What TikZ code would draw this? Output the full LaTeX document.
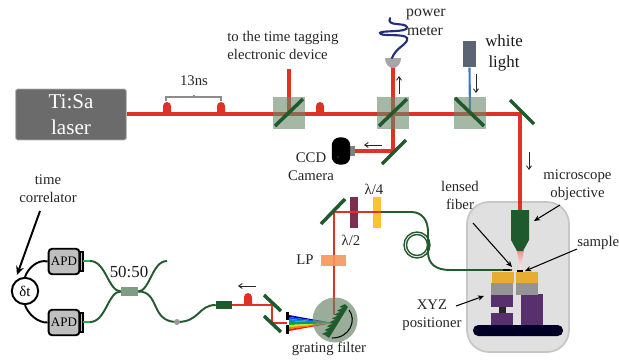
\documentclass[tikz,border=0pt]{standalone}
\usepackage{fontspec}
\setmainfont{Liberation Serif}
\usetikzlibrary{calc,arrows.meta}
\definecolor{beamred}{HTML}{DE3226}
\definecolor{mirrorgreen}{HTML}{1E5A2C}
\definecolor{bsgreen}{HTML}{698969}
\definecolor{discgreen}{HTML}{648164}
\definecolor{fibergreen}{HTML}{245A30}
\definecolor{stubgreen}{HTML}{22B14C}
\definecolor{stagepurple}{HTML}{58306E}
\definecolor{stagegold}{HTML}{E5AE30}
\definecolor{lampgrey}{HTML}{5B6472}
\definecolor{lampblue}{HTML}{3B78C4}
\definecolor{meternavy}{HTML}{1F2F7A}
\definecolor{waveplum}{HTML}{7A3050}
\definecolor{wavegold}{HTML}{FBC232}
\definecolor{lporange}{HTML}{F6965A}
\tikzset{
  beam/.style={draw=beamred,line width=1.9pt},
  thinbeam/.style={draw=beamred,line width=1.2pt},
  mirror/.style={draw=mirrorgreen,line width=2pt},
  fiber/.style={draw=fibergreen,line width=1.1pt},
  tag/.style={font=\fontsize{8.4}{10.2}\selectfont,align=center,inner sep=0pt,text=black!85},
  bigtag/.style={font=\fontsize{9.6}{11.5}\selectfont,align=center,inner sep=0pt,text=black!90},
  dirarrow/.style={draw=black!85,line width=0.5pt,-{Straight Barb[length=2pt,width=2.8pt]}},
  callout/.style={draw=black,line width=0.6pt,-{Stealth[length=3.5pt,width=3pt]}},
  bsbox/.style={minimum size=17.5pt,inner sep=0pt},
  bsfill/.style={fill=bsgreen,fill opacity=0.6},
  apdbox/.style={draw=black,line width=1.1pt,fill=black!25,rounded corners=2pt,minimum width=17.5pt,minimum height=14.5pt,inner sep=0pt,font=\fontsize{7.4}{9}\selectfont},
  plate/.style={minimum width=4.5pt,minimum height=17.5pt,inner sep=0pt}
}
% one pulse sitting on the beam
\newcommand{\pulse}[1]{\fill[beamred] ($(#1)+(-4,0)$) -- ($(#1)+(-4,-8)$) arc (180:360:4) -- ($(#1)+(4,0)$) -- cycle;}
\begin{document}
\begin{tikzpicture}[x=0.02cm,y=-0.02cm]
  \useasboundingbox (0,0) rectangle (619,359);

  % enclosure of the microscope
  \draw[draw=black!22,fill=black!12,line width=1pt,rounded corners=12.5pt] (467,202) rectangle (569,352);

  % beam splitters
  \node[bsbox] (bsA) at (289,113) {};
  \node[bsbox] (bsB) at (393,113) {};
  \node[bsbox] (bsC) at (470,113) {};

  % laser and main beam
  \node[fill=black!58,draw=black!30,rounded corners=1pt,minimum width=63pt,minimum height=29pt,inner sep=0pt,
    font=\fontsize{12}{14.8}\selectfont,align=center,text=white] (laser) at (71,114.5) {Ti:Sa\\laser};
  \coordinate (cornerA) at (520,114);
  \coordinate (objtop) at (520,212);
  \draw[beam] (laser.east |- cornerA) -- (cornerA) -- (objtop);

  % pulses with their spacing
  \pulse{167,114} \pulse{221,114} \pulse{320,114}
  \draw[draw=black!45,line width=0.9pt] (166,101) -- (166,97) -- (221,97) -- (221,101);
  \draw[draw=black!45,line width=0.9pt] (194,97) -- (194,95);
  \node[tag] (spacing) at (194,81) {13ns};

  % tagging branch
  \coordinate (tagend) at (289,69);
  \draw[beam] (tagend) -- (bsA.center);
  \node[tag,align=left,anchor=west] (tagging) at (227,45) {to the time tagging\\electronic device};

  % power meter branch
  \coordinate (cornerB) at (393,151);
  \coordinate (ccdin) at (355,151);
  \draw[beam] (393,66) -- (cornerB) -- (ccdin);
  \fill[black!35] (385,58) arc (180:0:8 and 10) -- cycle;
  \draw[draw=meternavy,line width=1.2pt,line cap=round] (392,58)
    .. controls (396,47) and (409,44) .. (407,38)
    .. controls (404,33) and (380,37) .. (380,33)
    .. controls (380,30) and (409,33) .. (407,27)
    .. controls (405,22) and (386,27) .. (390,18);
  \node[tag,font=\fontsize{9}{10.2}\selectfont] (power) at (426,14) {power};
  \node[tag,font=\fontsize{9}{10.2}\selectfont] (meter) at (425,31) {meter};
  \draw[dirarrow] (399,94) -- (399,76);

  % white light
  \node[fill=lampgrey,minimum width=7.5pt,minimum height=15pt,inner sep=0pt] (whitelamp) at (469.5,54) {};
  \draw[draw=lampblue,line width=1.2pt] (whitelamp.south) -- (bsC.center);
  \node[bigtag] (whitelight) at (504,53) {white\\light};
  \draw[dirarrow] (476,74) -- (476,93);

  % fill of the splitters goes over the beams
  \fill[bsfill] (bsA.south west) rectangle (bsA.north east);
  \fill[bsfill] (bsB.south west) rectangle (bsB.north east);
  \fill[bsfill] (bsC.south west) rectangle (bsC.north east);

  % splitter mirrors
  \draw[mirror] (275,126) -- (303,99);
  \draw[mirror] (379,126) -- (407,99);
  \draw[mirror] (455,98) -- (484,126);

  % steering mirrors
  \draw[mirror] (510,100) -- (534,124);
  \draw[mirror] (382,164) -- (406,140);
  \draw[dirarrow] (529,152) -- (529,170);

  % CCD camera
  \fill[black!50] (350,146) rectangle (355,156);
  \node[fill=black,rounded corners=4.5pt,minimum width=10.5pt,minimum height=15.5pt,inner sep=0pt] (ccd) at (341,151) {};
  \fill[orange] (338,157) circle (0.6);
  \node[tag] (ccdtag) at (311,167) {CCD\\Camera};
  \draw[dirarrow] (382,145) -- (364,145);

  % objective
  \shade[top color=beamred!55,bottom color=beamred!5] (517,250) -- (524,250) -- (520.5,270) -- cycle;
  \fill[mirrorgreen] (511,210) -- (529,210) -- (529,240) -- (523,251) -- (517,251) -- (511,240) -- cycle;
  \node[tag] (objective) at (577.5,185) {microscope\\objective};
  \coordinate (objstart) at (560,205);
  \coordinate (objhit) at (534,221);
  \draw[callout] (objstart) -- (objhit);

  % stage
  \fill[black!85!blue,rounded corners=3pt] (473,325) rectangle (563,336);
  \fill[stagepurple] (491,313) rectangle (513,325);
  \fill[black!85] (499,307) rectangle (506,313);
  \fill[stagepurple] (491,295) rectangle (513,307);
  \fill[black!42] (491,283) rectangle (513,295);
  \fill[stagegold] (492,272) rectangle (514,283);
  \fill[stagepurple] (521,294) rectangle (543,325);
  \fill[black!42] (516,282) rectangle (538,295);
  \fill[stagegold] (516,272) rectangle (538,283);
  \draw[black,line width=0.8pt] (517,271) -- (523,271);
  \node[tag] (positioner) at (432,315) {XYZ\\positioner};
  \coordinate (stagestart) at (456,306);
  \coordinate (stagehit) at (484,296);
  \draw[callout] (stagestart) -- (stagehit);
  \node[tag,anchor=west] (sample) at (577,243) {sample};
  \coordinate (samplestart) at (577,249);
  \coordinate (samplehit) at (525,271);
  \draw[callout] (samplestart) -- (samplehit);
  \node[tag] (lensed) at (460,195) {lensed\\fiber};
  \coordinate (lensstart) at (473,223);
  \coordinate (lenshit) at (512,267);
  \draw[callout] (lensstart) -- (lenshit);

  % fiber to the lensed tip
  \coordinate (fiberout) at (381,212);
  \coordinate (fibertip) at (512,270);
  \draw[fiber] (fiberout) -- (411,212)
    .. controls (422,212) and (428,220) .. (428,232)
    -- (428,252)
    .. controls (428,264) and (436,270) .. (450,270) -- (fibertip);
  \draw[fiber,line width=0.8pt] (417,245) circle (10.5);
  \draw[fiber,line width=0.8pt] (417,245) circle (13);
  \draw[black,line width=0.9pt] (503,270) -- (510,270);

  % fold mirror and plates
  \coordinate (cornerC) at (334,212);
  \coordinate (gratinghit) at (334,315);
  \node[plate,fill=waveplum] (halfwave) at (354,212.5) {};
  \node[plate,fill=wavegold] (quarterwave) at (377,212.5) {};
  \draw[thinbeam] (fiberout) -- (cornerC) -- (gratinghit);
  \draw[mirror] (321,224) -- (345,199);
  \node[tag] (quartertag) at (374,189) {λ/4};
  \node[tag] (halftag) at (351,240) {λ/2};
  \node[minimum width=14.5pt,minimum height=6.5pt,inner sep=0pt,fill=lporange,opacity=0.9] (lp) at (333.5,260.5) {};
  \node[tag,anchor=east] (lptag) at (314,260) {LP};

  % spectrum fan
  \foreach \colr [count=\i from 0] in {blue!60!black,blue!70!cyan,cyan!70!blue,teal!80!green,green!70!black,yellow!80!green,orange,red!80!orange}
    \fill[\colr] ($(289,315)+(0,\i*2)$) -- ($(289,315)+(0,\i*2+2)$) -- (333,323) -- cycle;

  % grating filter
  \fill[discgreen,fill opacity=0.65] (335,320) circle (22.5);
  \fill[mirrorgreen] (345,304) -- (348,307) -- (329,338) -- (325,335) -- cycle;
  \foreach \k in {0,...,7}
    \fill[mirrorgreen] ($(325,335)!{\k/8}!(345,304)$) -- ++(-3,-1) -- ($(325,335)!{(\k+1)/8}!(345,304)$) -- cycle;
  \draw[black,line width=0.6pt] (349,310) .. controls (357,320) and (350,338) .. (332,338);
  \node[tag] (gratingtag) at (329,349) {grating filter};

  % slit
  \fill[black] (286,312) rectangle (289,320);
  \fill[black] (286,325) rectangle (289,334);

  % folded beam behind the slit
  \coordinate (foldA) at (272,323);
  \coordinate (foldB) at (272,305);
  \node[fill=mirrorgreen,minimum width=9pt,minimum height=5pt,inner sep=0pt] (coupler) at (224,305) {};
  \draw[thinbeam] (287,323) -- (foldA) -- (foldB) -- (coupler.east);
  \draw[mirror] (264,295) -- (281,311);
  \draw[mirror] (264,316) -- (281,332);
  \pulse{248,305}
  \draw[dirarrow] (256,286) -- (238,286);

  % fiber beam splitter
  \node[fill=mirrorgreen!45!bsgreen!70!white,minimum width=9.5pt,minimum height=5pt,inner sep=0pt] (split) at (129.5,291.5) {};
  \node[bigtag] (ratio) at (129,272) {50:50};
  \coordinate (openend) at (167,261);
  \coordinate (apdAfib) at (90,261);
  \coordinate (apdBfib) at (90,322);
  \draw[fiber] (split.east) .. controls (150,291) and (152,261) .. (openend);
  \draw[fiber] (split.west) .. controls (108,291) and (106,261) .. (apdAfib);
  \draw[fiber] (split.west) .. controls (108,291) and (106,322) .. (apdBfib);
  \draw[fiber] (split.east) .. controls (160,291) and (150,322) .. (177,322)
    .. controls (200,322) and (198,305) .. (coupler.west);
  \fill[black!40] (177,322) circle (3);

  % detectors
  \node[apdbox] (apdA) at (64,261.5) {APD};
  \node[apdbox] (apdB) at (64,322.5) {APD};
  \draw[black,line width=0.7pt,fill=black!25] (80,252) rectangle (83,271);
  \draw[black,line width=0.7pt,fill=black!25] (80,313) rectangle (83,332);
  \draw[draw=stubgreen,line width=1.2pt] (83,261) -- (apdAfib);
  \draw[draw=stubgreen,line width=1.2pt] (83,322) -- (apdBfib);

  % correlator
  \node[circle,draw=black,line width=1.1pt,fill=white,minimum size=15pt,inner sep=0pt,font=\fontsize{8.4}{9}\selectfont] (corr) at (25,291) {δt};
  \draw[black,line width=1.1pt] (corr.north) .. controls (28,268) and (38,259) .. (apdA.west);
  \draw[black,line width=1.1pt] (corr.south) .. controls (28,314) and (38,323) .. (apdB.west);
  \node[tag] (corrtag) at (48,189) {time\\correlator};
  \coordinate (corrstart) at (40,211);
  \coordinate (corrhit) at (17,275);
  \draw[black,line width=1.1pt,-{Stealth[length=5pt,width=4.5pt]}] (corrstart) -- (corrhit);
\end{tikzpicture}
\end{document}
